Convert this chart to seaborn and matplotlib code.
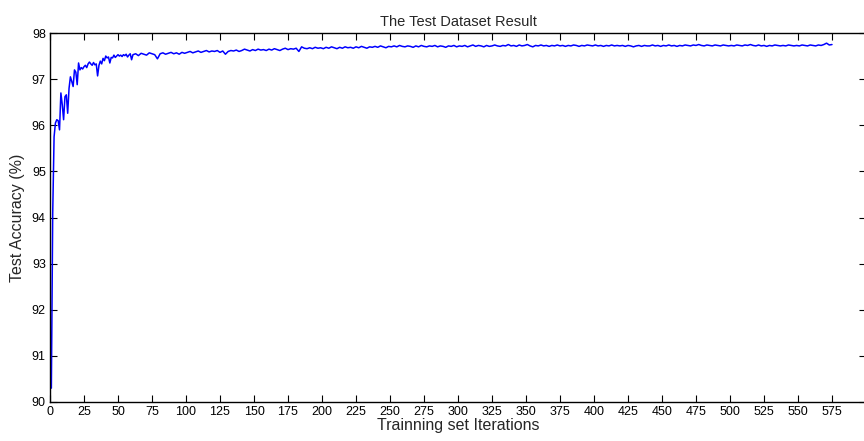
import numpy as np
import pandas as pd
import matplotlib
matplotlib.use('Agg')
import matplotlib.pyplot as plt
import seaborn as sns

# test accuracy (%)
# iterations 1..60, one value per iteration
acc_early = [90.30, 94.10, 95.75, 96.05, 96.12, 96.10, 95.90, 96.70, 96.45, 96.12,
             96.62, 96.66, 96.26, 96.80, 97.05, 96.95, 96.84, 97.20, 97.15, 96.88,
             97.35, 97.20, 97.25, 97.22, 97.27, 97.30, 97.25, 97.33, 97.37, 97.33,
             97.30, 97.36, 97.31, 97.33, 97.07, 97.30, 97.39, 97.33, 97.45, 97.40,
             97.50, 97.46, 97.48, 97.35, 97.47, 97.46, 97.52, 97.47, 97.50, 97.53,
             97.50, 97.52, 97.49, 97.53, 97.51, 97.54, 97.48, 97.52, 97.55, 97.42]

# iterations 61..575, every second iteration
acc_late = [97.53, 97.55, 97.51, 97.56, 97.54, 97.52, 97.57, 97.55, 97.53, 97.44,
            97.55, 97.57, 97.54, 97.56, 97.58, 97.55, 97.57, 97.54, 97.58, 97.56,
            97.58, 97.60, 97.57, 97.59, 97.61, 97.58, 97.60, 97.62, 97.59, 97.61,
            97.60, 97.62, 97.58, 97.61, 97.54, 97.60, 97.62, 97.61, 97.63, 97.60,
            97.62, 97.65, 97.63, 97.61, 97.64, 97.62, 97.65, 97.63, 97.64, 97.62,
            97.65, 97.63, 97.66, 97.64, 97.62, 97.65, 97.67, 97.64, 97.66, 97.65,
            97.67, 97.60, 97.70, 97.67, 97.66, 97.68, 97.66, 97.69, 97.67, 97.68,
            97.66, 97.69, 97.67, 97.70, 97.68, 97.66, 97.69, 97.67, 97.70, 97.68,
            97.69, 97.67, 97.70, 97.68, 97.71, 97.69, 97.67, 97.70, 97.69, 97.71,
            97.69, 97.72, 97.70, 97.68, 97.71, 97.70, 97.72, 97.70, 97.73, 97.71,
            97.70, 97.72, 97.71, 97.69, 97.72, 97.70, 97.73, 97.71, 97.70, 97.72,
            97.71, 97.73, 97.70, 97.72, 97.71, 97.69, 97.72, 97.71, 97.73, 97.70,
            97.72, 97.71, 97.73, 97.70, 97.72, 97.74, 97.71, 97.73, 97.72, 97.70,
            97.73, 97.71, 97.72, 97.74, 97.72, 97.71, 97.73, 97.72, 97.75, 97.72,
            97.73, 97.71, 97.74, 97.72, 97.73, 97.75, 97.72, 97.70, 97.73, 97.72,
            97.74, 97.72, 97.73, 97.71, 97.73, 97.72, 97.74, 97.72, 97.73, 97.71,
            97.73, 97.72, 97.74, 97.73, 97.71, 97.73, 97.72, 97.74, 97.73, 97.72,
            97.74, 97.72, 97.73, 97.71, 97.73, 97.72, 97.74, 97.72, 97.73, 97.72,
            97.73, 97.71, 97.73, 97.72, 97.70, 97.72, 97.73, 97.71, 97.73, 97.72,
            97.72, 97.74, 97.72, 97.73, 97.71, 97.73, 97.72, 97.74, 97.72, 97.73,
            97.71, 97.73, 97.72, 97.74, 97.73, 97.72, 97.74, 97.73, 97.75, 97.73,
            97.72, 97.74, 97.73, 97.72, 97.74, 97.73, 97.72, 97.74, 97.73, 97.72,
            97.73, 97.72, 97.74, 97.73, 97.72, 97.74, 97.73, 97.75, 97.73, 97.72,
            97.74, 97.72, 97.73, 97.71, 97.73, 97.72, 97.74, 97.73, 97.72, 97.73,
            97.72, 97.74, 97.73, 97.72, 97.73, 97.72, 97.74, 97.73, 97.72, 97.74,
            97.73, 97.72, 97.74, 97.73, 97.75, 97.78, 97.74, 97.75]

iters = list(range(1, 61)) + list(range(61, 576, 2))
xticks = list(range(0, 576, 25))
yticks = list(range(90, 99))

df = pd.DataFrame({'iter': iters, 'acc': acc_early + acc_late})

sns.set_style('ticks')
plt.rcParams['font.family'] = ['Liberation Sans', 'DejaVu Sans']

fig = plt.figure(figsize=(8.64, 4.41), dpi=100)
ax = fig.add_axes([50/864, 39/441, 816/864, 369/441])

sns.lineplot(data=df, x='iter', y='acc', color='#0000ff', lw=1.1, ax=ax)

ax.set_xlim(0, 600)
ax.set_ylim(90, 98)
ax.set_xticks(xticks)
ax.set_yticks(yticks)
ax.tick_params(direction='in', top=True, right=True, length=5, width=0.8,
               labelsize=9, pad=3, colors='black')
for s in ax.spines.values():
    s.set_linewidth(1.0)
    s.set_color('black')
# the box's right edge falls just outside the picture
ax.spines['right'].set_visible(False)

ax.set_title('The Test Dataset Result', fontsize=10.5, pad=5)
ax.set_xlabel('Trainning set Iterations', fontsize=11.5, labelpad=0)
ax.set_ylabel('Test Accuracy (%)', fontsize=11.5, labelpad=5)

fig.savefig('out.png', dpi=100)
